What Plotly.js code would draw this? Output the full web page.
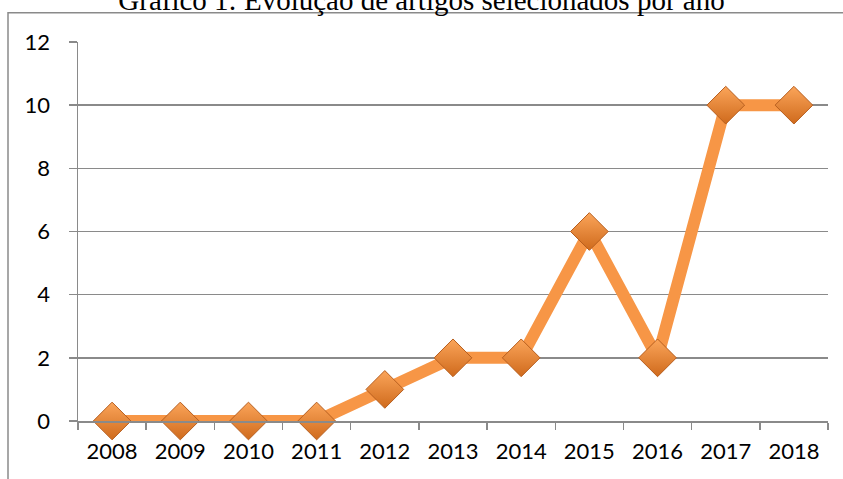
<!DOCTYPE html>
<html>
<head>
<meta charset="utf-8">
<script src="https://cdn.plot.ly/plotly-3.0.1.min.js"></script>
<style>html,body{margin:0;padding:0;background:#fff;}#chart{width:843px;height:479px;}</style>
</head>
<body>
<div id="chart"></div>
<script>
const years = ['2008','2009','2010','2011','2012','2013','2014','2015','2016','2017','2018'];
const articles = [0,0,0,0,1,2,2,6,2,10,10];
const yTicks = [0,2,4,6,8,10,12];
const titleText = 'Gráfico 1: Evolução de artigos selecionados por ano';

const gray = '#8a8a8a';
const trace = {
  type: 'scatter',
  mode: 'lines+markers',
  x: years,
  y: articles,
  cliponaxis: false,
  line: {color: '#F79646', width: 12},
  marker: {
    symbol: 'diamond',
    size: 29,
    color: '#FBA55A',
    gradient: {type: 'vertical', color: '#CF6A1C'},
    line: {color: '#B75E1E', width: 1}
  },
  hoverinfo: 'x+y'
};

const layout = {
  width: 843,
  height: 479,
  margin: {l: 78, r: 15, t: 42, b: 58},
  paper_bgcolor: '#ffffff',
  plot_bgcolor: '#ffffff',
  showlegend: false,
  font: {family: 'Lato, "Open Sans", sans-serif', size: 22, color: '#000'},
  title: {
    text: titleText,
    font: {family: '"Liberation Serif", "Times New Roman", serif', size: 29, color: '#000'},
    x: 0.5, xanchor: 'center',
    yref: 'container', y: 1 - 10/479, yanchor: 'bottom'
  },
  xaxis: {
    type: 'category',
    range: [-0.5, 10.5],
    tickson: 'boundaries',
    ticks: 'outside',
    ticklen: 7,
    tickwidth: 1.5,
    tickcolor: gray,
    showline: true,
    linecolor: gray,
    linewidth: 1.5,
    showgrid: false,
    ticklabelstandoff: 10,
    tickfont: {size: 22}
  },
  yaxis: {
    range: [0, 12],
    tickvals: yTicks,
    ticks: 'outside',
    ticklen: 8,
    tickwidth: 1.5,
    tickcolor: gray,
    showline: true,
    linecolor: gray,
    linewidth: 1.5,
    showgrid: true,
    gridcolor: gray,
    gridwidth: 1.5,
    zeroline: false,
    ticklabelstandoff: 14,
    tickfont: {size: 22}
  },
  shapes: [{
    type: 'rect', xref: 'paper', yref: 'paper',
    x0: (8 - 78) / 750, x1: 1.5,
    y0: -1, y1: (421 - 12.7) / 379,
    line: {color: gray, width: 1.5},
    layer: 'below'
  }]
};

Plotly.newPlot('chart', [trace], layout, {displayModeBar: false, staticPlot: true});
</script>
</body>
</html>
